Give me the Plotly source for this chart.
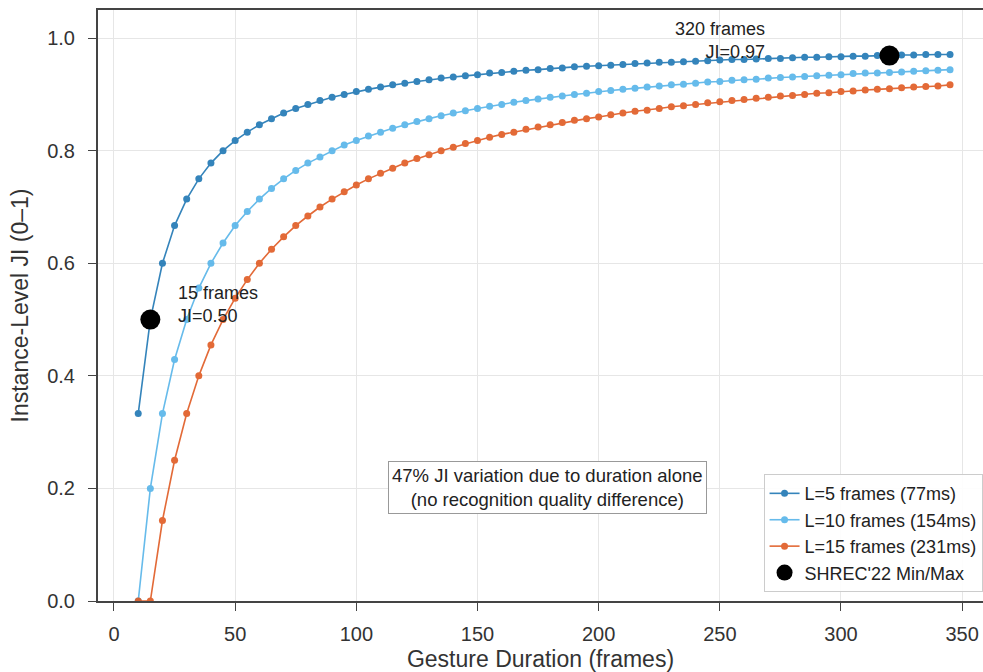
import plotly.graph_objects as go

durations = [10, 15, 20, 25, 30, 35, 40, 45, 50, 55, 60, 65, 70, 75, 80, 85, 90, 95, 100, 105,
             110, 115, 120, 125, 130, 135, 140, 145, 150, 155, 160, 165, 170, 175, 180, 185, 190, 195, 200, 205,
             210, 215, 220, 225, 230, 235, 240, 245, 250, 255, 260, 265, 270, 275, 280, 285, 290, 295, 300, 305,
             310, 315, 320, 325, 330, 335, 340, 345]

ji_l5 = [0.333, 0.5, 0.6, 0.667, 0.714, 0.75, 0.778, 0.8, 0.818, 0.833,
         0.846, 0.857, 0.867, 0.875, 0.882, 0.889, 0.895, 0.9, 0.905, 0.909,
         0.913, 0.917, 0.92, 0.923, 0.926, 0.929, 0.931, 0.933, 0.935, 0.938,
         0.939, 0.941, 0.943, 0.944, 0.946, 0.947, 0.949, 0.95, 0.951, 0.952,
         0.953, 0.955, 0.956, 0.957, 0.957, 0.958, 0.959, 0.96, 0.961, 0.962,
         0.962, 0.963, 0.964, 0.964, 0.965, 0.966, 0.966, 0.967, 0.967, 0.968,
         0.968, 0.969, 0.969, 0.97, 0.97, 0.971, 0.971, 0.971]

ji_l10 = [0, 0.2, 0.333, 0.429, 0.5, 0.556, 0.6, 0.636, 0.667, 0.692,
          0.714, 0.733, 0.75, 0.765, 0.778, 0.789, 0.8, 0.81, 0.818, 0.826,
          0.833, 0.84, 0.846, 0.852, 0.857, 0.862, 0.867, 0.871, 0.875, 0.879,
          0.882, 0.886, 0.889, 0.892, 0.895, 0.897, 0.9, 0.902, 0.905, 0.907,
          0.909, 0.911, 0.913, 0.915, 0.917, 0.918, 0.92, 0.922, 0.923, 0.925,
          0.926, 0.927, 0.929, 0.93, 0.931, 0.932, 0.933, 0.934, 0.935, 0.937,
          0.938, 0.938, 0.939, 0.94, 0.941, 0.942, 0.943, 0.944]

ji_l15 = [0, 0, 0.143, 0.25, 0.333, 0.4, 0.455, 0.5, 0.538, 0.571,
          0.6, 0.625, 0.647, 0.667, 0.684, 0.7, 0.714, 0.727, 0.739, 0.75,
          0.76, 0.769, 0.778, 0.786, 0.793, 0.8, 0.806, 0.813, 0.818, 0.824,
          0.829, 0.833, 0.838, 0.842, 0.846, 0.85, 0.854, 0.857, 0.86, 0.864,
          0.867, 0.87, 0.872, 0.875, 0.878, 0.88, 0.882, 0.885, 0.887, 0.889,
          0.891, 0.893, 0.895, 0.897, 0.898, 0.9, 0.902, 0.903, 0.905, 0.906,
          0.908, 0.909, 0.91, 0.912, 0.913, 0.914, 0.915, 0.917]

series_names = ["L=5 frames (77ms)", "L=10 frames (154ms)", "L=15 frames (231ms)"]
series_colors = ["#1f77b4", "#56B4E9", "#E05A22"]

shrec_x = [15, 320]
shrec_y = [0.5, 0.969]
shrec_labels = ["15 frames<br>JI=0.50", "320 frames<br>JI=0.97"]

x_ticks = [0, 50, 100, 150, 200, 250, 300, 350]
y_ticks = [0, 0.2, 0.4, 0.6, 0.8, 1.0]
y_ticktext = ["0.0", "0.2", "0.4", "0.6", "0.8", "1.0"]

FONT = "Liberation Sans, Arial, sans-serif"

fig = go.Figure()
for i, (name, ys, col) in enumerate(zip(series_names, [ji_l5, ji_l10, ji_l15], series_colors)):
    fig.add_trace(go.Scatter(
        x=durations, y=ys, mode="lines+markers", name=name,
        line=dict(color=col, width=1.6),
        marker=dict(color=col, size=7),
        legendgroup=f"g{i}", opacity=0.9,
    ))

fig.add_trace(go.Scatter(
    x=shrec_x, y=shrec_y, mode="markers", name="SHREC'22 Min/Max",
    marker=dict(color="black", size=20), legendgroup="g3",
))

fig.add_annotation(x=shrec_x[0], y=shrec_y[0], text=shrec_labels[0], showarrow=False,
                   xanchor="left", yanchor="middle", align="left", xshift=26, yshift=15,
                   font=dict(family=FONT, size=18, color="#222"))
fig.add_annotation(x=shrec_x[1], y=shrec_y[1], text=shrec_labels[1], showarrow=False,
                   xanchor="right", yanchor="middle", align="right", xshift=-122, yshift=15,
                   font=dict(family=FONT, size=18, color="#222"))
fig.add_annotation(x=179, y=0.201, xref="x", yref="y",
                   text="47% JI variation due to duration alone<br>(no recognition quality difference)",
                   showarrow=False, align="center",
                   font=dict(family=FONT, size=18.5, color="#222"),
                   bgcolor="white", bordercolor="#999", borderwidth=1, borderpad=3)

fig.update_layout(
    width=983, height=672,
    margin=dict(l=98, r=0, t=10, b=71),
    paper_bgcolor="white", plot_bgcolor="white",
    font=dict(family=FONT, size=15, color="#333"),
    showlegend=True,
    legend=dict(x=0.9995, y=0.015, xanchor="right", yanchor="bottom",
                bgcolor="rgba(255,255,255,0.9)", bordercolor="#ccc", borderwidth=1,
                font=dict(family=FONT, size=18, color="#222"),
                tracegroupgap=0, itemwidth=30),
)
fig.update_xaxes(
    range=[-6.6, 358.6], tickvals=x_ticks,
    showgrid=True, gridcolor="#e6e6e6", gridwidth=1, zeroline=False,
    showline=True, linecolor="#444", linewidth=2, mirror=True,
    ticks="outside", ticklen=8, tickcolor="#444", tickwidth=1.3,
    ticklabelstandoff=6,
    tickfont=dict(size=20, color="#333"),
    title=dict(text="Gesture Duration (frames)", font=dict(size=23, color="#333"), standoff=8),
)
fig.update_yaxes(
    range=[0, 1.05], tickvals=y_ticks, ticktext=y_ticktext,
    showgrid=True, gridcolor="#e6e6e6", gridwidth=1, zeroline=False,
    showline=True, linecolor="#444", linewidth=2, mirror=False,
    ticks="outside", ticklen=8, tickcolor="#444", tickwidth=1.3,
    ticklabelstandoff=9,
    tickfont=dict(size=20, color="#333"),
    title=dict(text="Instance-Level JI (0–1)", font=dict(size=23, color="#333"), standoff=12),
)

fig.write_html("out.html", config={"displayModeBar": False},
               post_script="document.body.style.margin='0px';")
